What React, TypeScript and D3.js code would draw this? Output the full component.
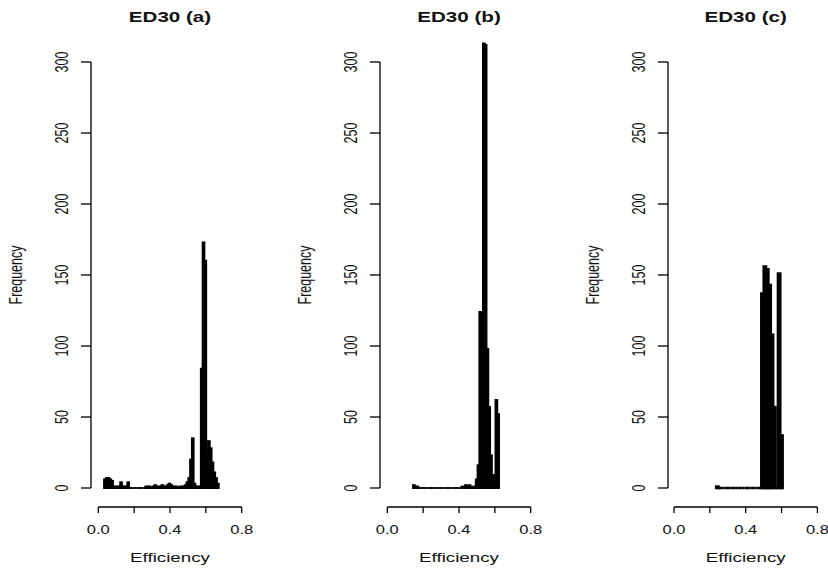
import React from "react";
import * as d3 from "d3";

const panelTitles = ["ED30 (a)", "ED30 (b)", "ED30 (c)"];
const yTicks = [0, 50, 100, 150, 200, 250, 300];
const xTicks = [0, 0.2, 0.4, 0.6, 0.8];
const xTickLabels = ["0.0", "", "0.4", "", "0.8"];

// Panel (a): bins of width 0.01 starting at 0.032
const binStartA = 0.032;
const binWidthA = 0.01;
const countsA = [
  6, 7, 7, 6, 5, 1, 1, 1, 1, 4, 1, 1, 1, 4, 0,
  0, 0, 0, 0, 0, 0, 0, 0,
  1, 1, 1, 0, 1, 2, 1, 1, 1, 2, 1, 1, 2, 3, 2, 1, 1, 1, 0, 1, 1, 1, 2,
  4, 7, 20, 35, 3, 1, 1, 1,
  84, 173, 160, 25, 33, 28, 18, 11, 7, 3,
];

// Panel (b)
const binStartB = 0.1435;
const binWidthB = 0.01;
const countsB = [
  2, 1, 1,
  0, 0, 0, 0, 0, 0, 0, 0, 0, 0, 0, 0, 0, 0, 0, 0, 0, 0, 0, 0, 0, 0, 0, 0,
  1, 0, 2, 1, 2, 1, 0, 1,
  6, 16, 124, 115, 313, 312, 98, 57, 23, 9, 9, 62, 52,
];

// Panel (c)
const binStartC = 0.23525;
const binWidthC = 0.01325;
const countsC = [
  1,
  0, 0, 0, 0, 0, 0, 0, 0, 0, 0, 0, 0, 0, 0, 0, 0, 0, 0,
  137, 156, 154, 143, 108, 57, 0, 151, 37,
];

const panels = [
  { title: panelTitles[0], start: binStartA, width: binWidthA, counts: countsA },
  { title: panelTitles[1], start: binStartB, width: binWidthB, counts: countsB },
  { title: panelTitles[2], start: binStartC, width: binWidthC, counts: countsC },
];

const W = 828;
const H = 569;
const axisXs = [91, 380, 668];
const zeroOffsets = [7.3, 7.3, 6.0];
const barStrokes = [1.9, 1.9, 2.5];
const FONT = "'Liberation Sans', Arial, Helvetica, sans-serif";
const SX = 1.5;
const SXT = 1.32;

function Panel({ p, axisX, off, bs }: { p: any; axisX: number; off: number; bs: number }) {
  const x0 = axisX + off;
  const x = d3.scaleLinear().domain([0, 0.8]).range([x0, x0 + 143.4]);
  const y = d3.scaleLinear().domain([0, 300]).range([488, 62]);
  const xAxisY = 507;
  const bars = p.counts.map((c: number, i: number) => {
    const a = x(p.start + i * p.width);
    const b = x(p.start + (i + 1) * p.width);
    const yt = y(c);
    const yb = y(0);
    return `M${a},${yb}V${yt}H${b}V${yb}Z`;
  });
  const cx = x(0.4);
  return (
    <g>
      <text
        transform={`translate(${cx},22) scale(1.42,1)`}
        textAnchor="middle"
        fontFamily={FONT}
        fontWeight="bold"
        fontSize={14.5}
        fill="#111"
      >
        {p.title}
      </text>
      {/* y axis */}
      <line x1={axisX} x2={axisX} y1={y(0)} y2={y(300)} stroke="#000" strokeWidth={1.3} />
      {yTicks.map((t) => (
        <g key={t}>
          <line x1={axisX - 10} x2={axisX} y1={y(t)} y2={y(t)} stroke="#000" strokeWidth={1.3} />
          <text
            transform={`translate(${axisX - 22.7},${y(t)}) scale(${SX},1) rotate(-90)`}
            textAnchor="middle"
            fontFamily={FONT}
            fontSize={12.5}
            fill="#111"
          >
            {String(t)}
          </text>
        </g>
      ))}
      <text
        transform={`translate(${axisX - 69},275) scale(${SX},1) rotate(-90)`}
        textAnchor="middle"
        fontFamily={FONT}
        fontSize={12.5}
        fill="#111"
      >
        Frequency
      </text>
      {/* x axis */}
      <line x1={x(0)} x2={x(0.8)} y1={xAxisY} y2={xAxisY} stroke="#000" strokeWidth={1.3} />
      {xTicks.map((t, i) => (
        <g key={t}>
          <line x1={x(t)} x2={x(t)} y1={xAxisY} y2={xAxisY + 6} stroke="#000" strokeWidth={1.3} />
          {xTickLabels[i] ? (
            <text
              transform={`translate(${x(t)},533.5) scale(${SXT},1)`}
              textAnchor="middle"
              fontFamily={FONT}
              fontSize={12.5}
              fill="#111"
            >
              {xTickLabels[i]}
            </text>
          ) : null}
        </g>
      ))}
      <text
        transform={`translate(${cx},561.5) scale(${SX},1)`}
        textAnchor="middle"
        fontFamily={FONT}
        fontSize={12.5}
        fill="#111"
      >
        Efficiency
      </text>
      {/* histogram */}
      {bars.map((d: string, i: number) => (
        <path key={i} d={d} fill="#fff" stroke="#000" strokeWidth={bs} />
      ))}
    </g>
  );
}

export default function App() {
  return (
    <svg
      width={W}
      height={H}
      viewBox={`0 0 ${W} ${H}`}
      style={{ position: "absolute", left: 0, top: 0, background: "#fff" }}
    >
      <rect x={0} y={0} width={W} height={H} fill="#fff" />
      {panels.map((p, i) => (
        <Panel key={i} p={p} axisX={axisXs[i]} off={zeroOffsets[i]} bs={barStrokes[i]} />
      ))}
    </svg>
  );
}
